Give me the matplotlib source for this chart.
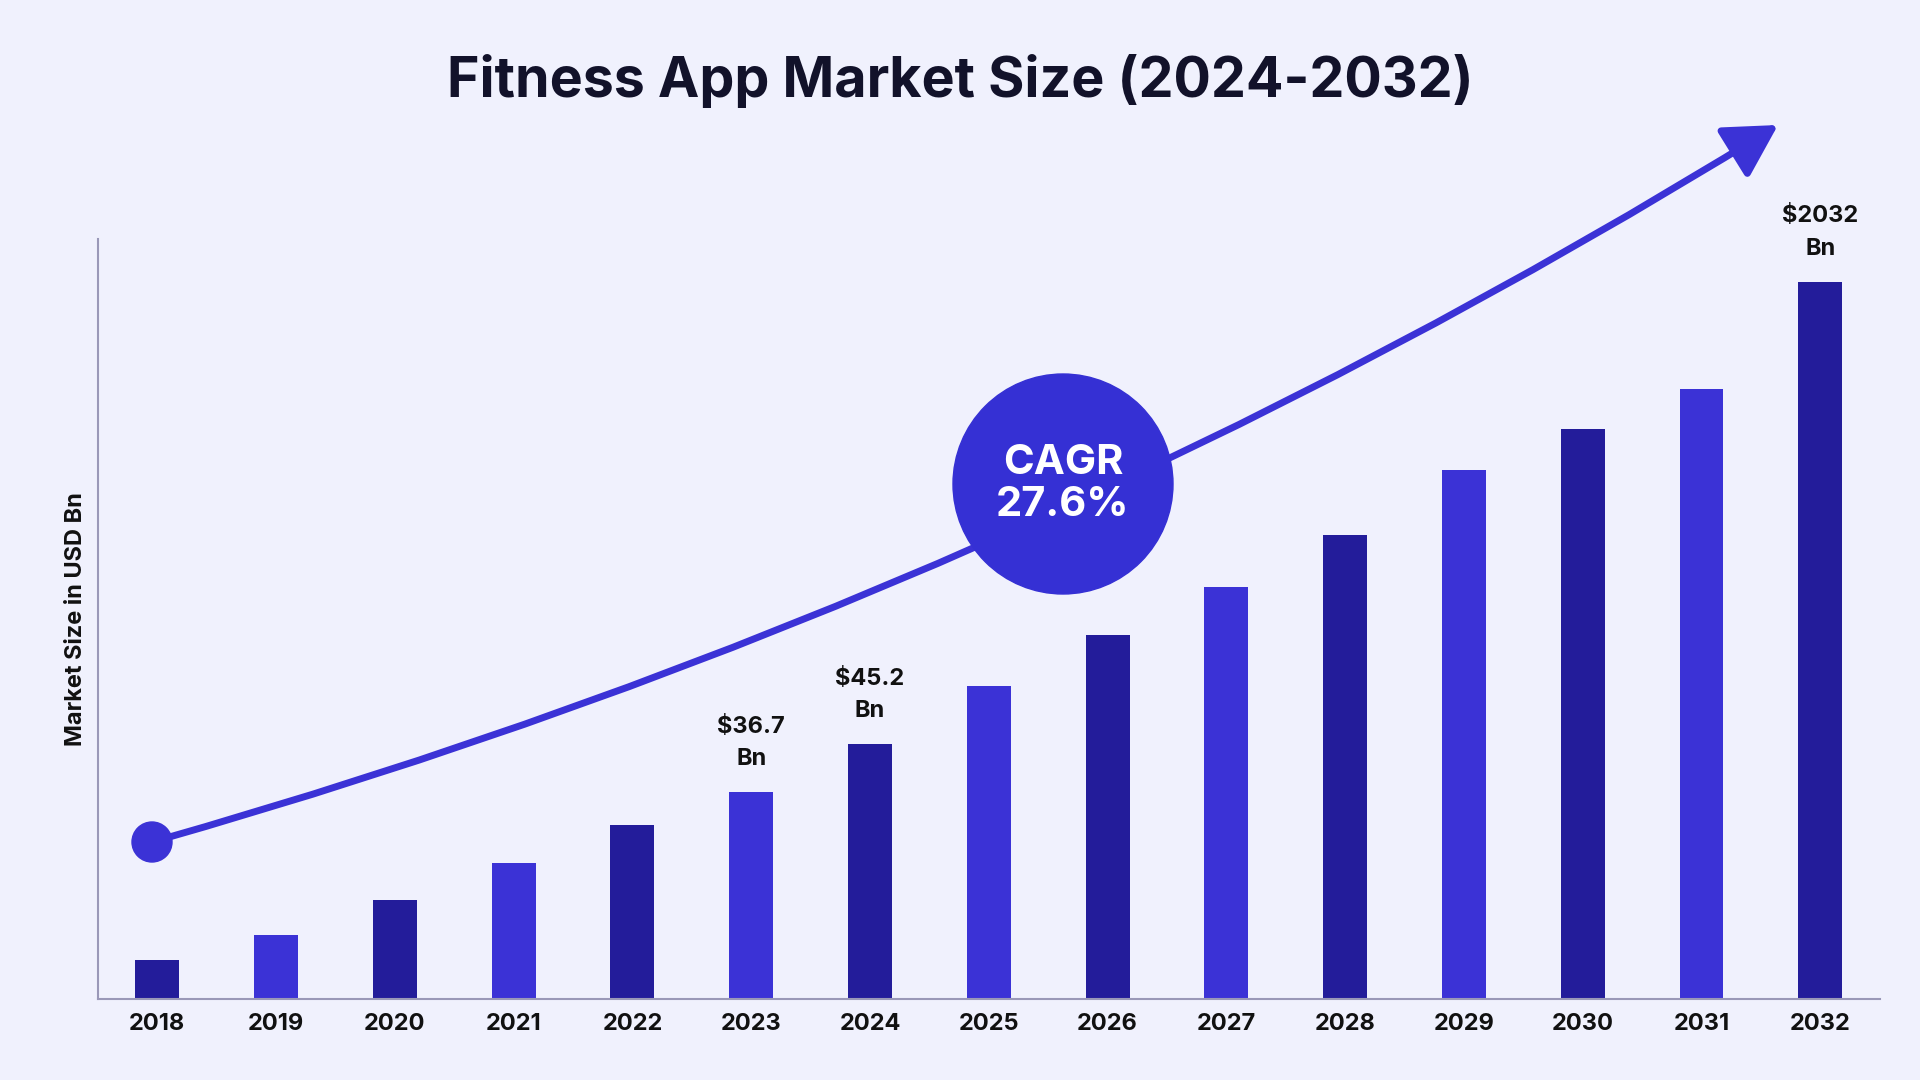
import matplotlib
matplotlib.use("Agg")
import matplotlib.pyplot as plt
import matplotlib.patches as mpatches

years = ["2018","2019","2020","2021","2022","2023","2024","2025","2026","2027","2028","2029","2030","2031","2032"]
values = [7.0, 11.3, 17.6, 24.2, 30.9, 36.7, 45.2, 55.5, 64.6, 73.1, 82.4, 94.0, 101.2, 108.3, 127.3]
labels = {5: "$36.7\nBn", 6: "$45.2\nBn", 14: "$2032\nBn"}
dark, bright, bg = "#231c9a", "#3b32d6", "#f0f1fd"
colors = [dark if i % 2 == 0 else bright for i in range(len(years))]

plt.rcParams['font.family'] = ['Inter', 'DejaVu Sans']
fig = plt.figure(figsize=(19.2, 10.8), dpi=100, facecolor=bg)
ax = fig.add_axes([0.051, 0.075, 0.928, 0.704], facecolor=bg)
x = range(len(years))
ax.bar(x, values, width=0.37, color=colors, zorder=2)
ax.set_xlim(-0.5, 14.5)
ax.set_ylim(0, 135)
ax.set_xticks(list(x))
ax.set_xticklabels(years, fontsize=17, fontweight='bold', color='#111')
ax.tick_params(axis='x', length=0, pad=10)
ax.set_yticks([])
for s in ['top', 'right']:
    ax.spines[s].set_visible(False)
for s in ['left', 'bottom']:
    ax.spines[s].set_color('#9a98b8')
    ax.spines[s].set_linewidth(1.5)
ax.set_ylabel("Market Size in USD Bn", fontsize=17, fontweight='bold', color='#111', labelpad=8)
for i, t in labels.items():
    ax.text(i, values[i] + 4, t, ha='center', va='bottom', fontsize=17, fontweight='bold', color='#111', linespacing=1.6)

fig.text(0.5, 0.925, "Fitness App Market Size (2024-2032)", ha='center', va='center',
         fontsize=40, fontweight='bold', color='#12122a')

tr = fig.dpi_scale_trans
arrow = mpatches.FancyArrowPatch((1.52, 2.38), (17.78, 9.55), transform=tr,
                                 connectionstyle="arc3,rad=0.07", arrowstyle="-|>,head_length=1.6,head_width=0.9",
                                 mutation_scale=20, color=bright, lw=5, zorder=5, shrinkA=0, shrinkB=0)
fig.patches.append(arrow)
fig.patches.append(mpatches.Circle((1.52, 2.38), 0.2, transform=tr, color=bright, zorder=6))
fig.patches.append(mpatches.Circle((10.63, 5.96), 1.10, transform=tr, color='#3530d4', zorder=6))
fig.text(10.63 / 19.2, 5.96 / 10.8, "CAGR\n27.6%", ha='center', va='center', fontsize=30,
         fontweight='bold', color='white', zorder=7, linespacing=1.1)

fig.savefig("out.png", dpi=100, facecolor=bg)
